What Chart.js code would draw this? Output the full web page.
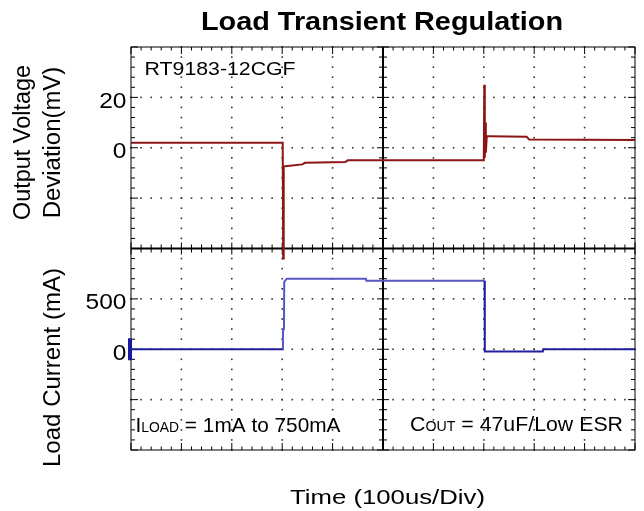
<!DOCTYPE html>
<html>
<head>
<meta charset="utf-8">
<script src="https://cdn.jsdelivr.net/npm/chart.js@4.4.1/dist/chart.umd.min.js"></script>
<style>
  html, body { margin: 0; padding: 0; background: #fff; }
  #scope { display: block; }
</style>
</head>
<body>
<canvas id="scope" width="644" height="511"></canvas>
<script>
/* =========================
   Trace data (time in us, 100us/Div)
========================= */
const vTime = [0, 301, 302, 303, 306, 340, 345, 425, 430, 700, 701, 702, 703, 704, 706, 710, 785, 790, 1000];
const vDev  = [2, 2, -44, -7.5, -7.3, -6.6, -6.0, -5.7, -5.0, -5.0, 25, -4, 10, -2, 4.6, 4.6, 4.4, 3.3, 3.1];

const iTime = [0, 301, 301.5, 303.5, 304, 309, 466, 467, 701.5, 702, 817, 818, 1000];
const iLoad = [0, 0, 180, 200, 670, 700, 700, 680, 680, -22, -22, 0, 0];

const voltTicks = [20, 0];
const currTicks = [500, 0];

const FONT = '"Liberation Sans", Arial, sans-serif';

// draws text runs (mixed sizes) on one baseline, optionally squeezed/stretched to a width
function drawRun(ctx, parts, x, y, opt = {}) {
  let nat = 0;
  parts.forEach(p => { ctx.font = p[1]; nat += ctx.measureText(p[0]).width; });
  const s = opt.w ? opt.w / nat : (opt.sx || 1);
  let x0 = x;
  if (opt.align === 'right') x0 = x - nat * s;
  if (opt.align === 'center') x0 = x - nat * s / 2;
  ctx.save();
  ctx.translate(x0, y);
  ctx.scale(s, 1);
  ctx.textAlign = 'left';
  ctx.textBaseline = 'alphabetic';
  ctx.fillStyle = '#000';
  let cx = 0;
  parts.forEach(p => {
    ctx.font = p[1];
    ctx.fillText(p[0], cx, 0);
    cx += ctx.measureText(p[0]).width;
  });
  ctx.restore();
}

function drawVertical(ctx, text, font, baseX, centerY, len) {
  ctx.save();
  ctx.translate(baseX, centerY);
  ctx.rotate(-Math.PI / 2);
  drawRun(ctx, [[text, font]], 0, 0, { w: len, align: 'center' });
  ctx.restore();
}

/* =========================
   Scope graticule + labels
========================= */
const scopeScreen = {
  id: 'scopeScreen',
  beforeDatasetsDraw(chart) {
    const ctx = chart.ctx;
    const { left, right, top, bottom } = chart.chartArea;
    const dx = (right - left) / 10, dy = (bottom - top) / 8;
    ctx.save();

    // dotted division lines
    ctx.fillStyle = '#333';
    for (let i = 1; i < 10; i++) {
      if (i === 5) continue;
      const x = left + i * dx;
      for (let k = 0; k <= 40; k++) ctx.fillRect(x - 0.8, top + k * dy / 5 - 0.8, 1.6, 1.6);
    }
    for (let j = 1; j < 8; j++) {
      if (j === 4) continue;
      const y = top + j * dy;
      for (let k = 0; k <= 50; k++) ctx.fillRect(left + k * dx / 5 - 0.8, y - 0.8, 1.6, 1.6);
    }

    // frame + inward ticks
    ctx.strokeStyle = '#000';
    ctx.lineWidth = 1;
    ctx.strokeRect(left, top, right - left, bottom - top);
    ctx.beginPath();
    for (let k = 0; k <= 50; k++) {
      const x = left + k * dx / 5, len = k % 5 === 0 ? 7 : 3.5;
      ctx.moveTo(x, top); ctx.lineTo(x, top + len);
      ctx.moveTo(x, bottom); ctx.lineTo(x, bottom - len);
    }
    for (let k = 0; k <= 40; k++) {
      const y = top + k * dy / 5, len = k % 5 === 0 ? 7 : 4;
      ctx.moveTo(left, y); ctx.lineTo(left + len, y);
      ctx.moveTo(right, y); ctx.lineTo(right - len, y);
    }
    ctx.stroke();

    // center cross
    const cx = left + 5 * dx, cy = top + 4 * dy;
    ctx.lineWidth = 2;
    ctx.beginPath();
    ctx.moveTo(cx, top); ctx.lineTo(cx, bottom);
    ctx.moveTo(left, cy); ctx.lineTo(right, cy);
    ctx.stroke();
    ctx.lineWidth = 1;
    ctx.beginPath();
    for (let k = 0; k <= 40; k++) {
      const y = top + k * dy / 5, len = k % 5 === 0 ? 6 : 4;
      ctx.moveTo(cx - len, y); ctx.lineTo(cx + len, y);
    }
    for (let k = 0; k <= 50; k++) {
      const x = left + k * dx / 5, len = k % 5 === 0 ? 6 : 4;
      ctx.moveTo(x, cy - len); ctx.lineTo(x, cy + len);
    }
    ctx.stroke();
    ctx.restore();
  },

  afterDatasetsDraw(chart) {
    const ctx = chart.ctx;
    const { left } = chart.chartArea;
    const yV = chart.scales.yV, yI = chart.scales.yI;

    // channel marker for the current trace
    ctx.save();
    ctx.fillStyle = '#1a1aa0';
    const i0 = yI.getPixelForValue(0);
    ctx.fillRect(left - 3, i0 - 11, 4, 22);
    ctx.restore();

    // tick labels
    const tickFont = '21.5px ' + FONT;
    voltTicks.forEach(v => drawRun(ctx, [[String(v), tickFont]], 126.5, yV.getPixelForValue(v) + 10.5, { sx: 1.14, align: 'right' }));
    currTicks.forEach(v => drawRun(ctx, [[String(v), tickFont]], 126.5, yI.getPixelForValue(v) + 10.5, { sx: 1.14, align: 'right' }));

    // titles
    drawRun(ctx, [['Load Transient Regulation', 'bold 25.5px ' + FONT]], 382, 30, { w: 362, align: 'center' });
    drawRun(ctx, [['Time (100us/Div)', '21px ' + FONT]], 387.5, 503.5, { w: 195, align: 'center' });
    drawVertical(ctx, 'Output Voltage', '23px ' + FONT, 30, 142.5, 155);
    drawVertical(ctx, 'Deviation(mV)', '23px ' + FONT, 60, 142.5, 151.5);
    drawVertical(ctx, 'Load Current (mA)', '24px ' + FONT, 60, 367.5, 199);

    // annotations on screen
    drawRun(ctx, [['RT9183-12CGF', '18.6px ' + FONT]], 144.6, 75, { w: 151 });
    drawRun(ctx, [['I', '21px ' + FONT], ['LOAD', '14px ' + FONT], [' = 1mA to 750mA', '21px ' + FONT]], 135.5, 431.7, { w: 205 });
    drawRun(ctx, [['C', '21px ' + FONT], ['OUT', '14px ' + FONT], [' = 47uF/Low ESR', '21px ' + FONT]], 410, 430.5, { w: 213 });
  }
};

/* =========================
   Chart
========================= */
const ctx = document.getElementById('scope').getContext('2d');

// the high-load stretch of the current trace is drawn lighter on the scope
function currentSegColor(c) {
  const hi = c.p0.parsed.y > 100 || c.p1.parsed.y > 100;
  return hi && c.p1.parsed.x < 702 ? '#5656c4' : '#1f1fa0';
}

new Chart(ctx, {
  type: 'line',
  data: {
    datasets: [
      {
        label: 'Output Voltage Deviation (mV)',
        data: vTime.map((t, i) => ({ x: t, y: vDev[i] })),
        yAxisID: 'yV',
        borderColor: '#8b1515',
        borderWidth: 2,
        pointRadius: 0,
        tension: 0
      },
      {
        label: 'Load Current (mA)',
        data: iTime.map((t, i) => ({ x: t, y: iLoad[i] })),
        yAxisID: 'yI',
        borderColor: '#1f1fa0',
        segment: { borderColor: currentSegColor },
        borderWidth: 2,
        pointRadius: 0,
        tension: 0
      }
    ]
  },
  options: {
    responsive: false,
    devicePixelRatio: 1,
    animation: false,
    layout: { padding: { left: 131, top: 47, right: 9, bottom: 61 } },
    plugins: {
      legend: { display: false },
      title: { display: false },
      tooltip: { enabled: false }
    },
    scales: {
      x: { type: 'linear', min: 0, max: 1000, display: false },
      yV: { type: 'linear', min: -120, max: 40, display: false },
      yI: { type: 'linear', min: -1000, max: 3000, display: false }
    }
  },
  plugins: [scopeScreen]
});
</script>
</body>
</html>
